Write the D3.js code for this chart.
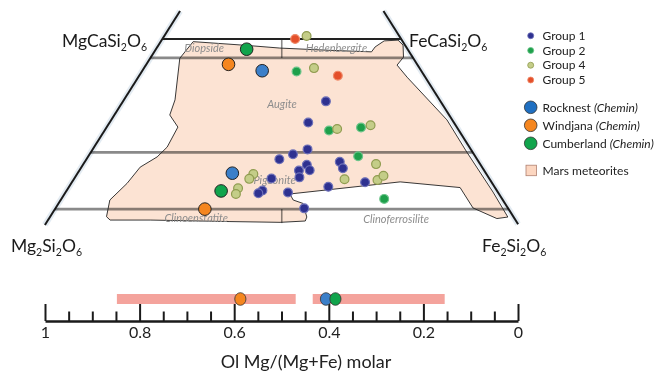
<!DOCTYPE html>
<html><head><meta charset="utf-8">
<script src="https://cdn.jsdelivr.net/npm/d3@7"></script>
<style>body{margin:0;background:#fff} svg{display:block} text{font-family:Lato,"Open Sans",sans-serif}</style>
</head><body><svg id="c" width="662" height="375"></svg>
<script>
// ---- data: pyroxene compositions [Wo %, Fs %] (En = 100 - Wo - Fs)
const group1 = [[33.5,42.5],[27.9,41.6],[20.8,45.0],[19.5,42.6],[18.2,40.4],[17.5,53.4],[15.8,54.9],[16.7,46.9],[15.3,48.2],[15.2,46.0],[13.4,47.0],[13.1,41.3],[12.1,61.4],[10.9,54.3],[9.9,41.0],[9.2,40.5],[9.4,46.6],[5.2,52.1]];
const group2 = [[41.4,32.4],[25.8,47.0],[26.6,53.3],[19.0,56.5],[7.7,67.6]];
const group4 = [[50.8,29.8],[42.3,35.6],[26.2,48.5],[27.2,55.0],[16.9,61.3],[12.9,56.7],[12.7,63.7],[13.8,64.4],[14.3,36.9],[13.0,36.7],[10.5,35.6],[9.0,35.9]];
const group5 = [[50.0,27.8],[40.3,41.6]];
const rocknest = [[41.6,25.1],[14.5,32.4]];
const windjana = [[43.3,17.2],[5.0,31.4]];
const cumberland = [[47.3,19.0],[9.8,32.4]];
const meteoriteField = [[49.3,6.8],[48.3,18.6],[47.6,25.8],[47.0,36.6],[46.6,45.5],[47.9,45.6],[49.5,46.7],[49.7,49.5],[48.4,51.2],[45.2,52.9],[43.1,52.6],[39.9,56.3],[28.6,70.3],[20.1,78.7],[9.5,89.5],[2.9,95.9],[2.5,93.8],[5.3,87.4],[10.7,82.0],[12.2,68.7],[9.0,47.2],[7.4,48.7],[6.5,51.2],[2.9,53.8],[1.85,54.0],[1.5,48.9],[1.7,38.3],[2.1,21.4],[2.1,13.0],[3.0,11.8],[7.4,10.3],[11.8,11.7],[16.1,12.3],[18.8,14.5],[21.4,15.3],[26.7,14.9],[29.9,11.6],[33.9,10.7],[44.9,6.2]];
const woLines = [45, 20, 5];
const phaseNames = ["Diopside","Hedenbergite","Augite","Pigeonite","Clinoenstatite","Clinoferrosilite"];
const phasePos = [[47.5,10.0],[47.7,37.6],[32.9,33.6],[12.8,42.1],[2.6,30.8],[2.5,72.7]]; // [Wo, Fs]
// bottom axis
const olTicksMajor = [1,0.8,0.6,0.4,0.2,0];
const olTickLabels = ["1","0.8","0.6","0.4","0.2","0"];
const olTicksMinor = [0.95,0.9,0.85,0.75,0.7,0.65,0.55,0.5,0.45,0.35,0.3,0.25,0.15,0.1,0.05];
const olRanges = [[0.848,0.470],[0.434,0.155]];
const olPoints = [["windjana",0.587],["rocknest",0.406],["cumberland",0.386]];
const legendGroups = ["Group 1","Group 2","Group 4","Group 5"];
const legendSamples = ["Rocknest","Windjana","Cumberland"];

const colors = {g1:"#2e3190", g2:"#1ea04b", g4:"#c4cd88", g5:"#e4502b",
  rocknest:"#3b7fc9", windjana:"#f5861f", cumberland:"#11a44c"};

const svg = d3.select("#c");
const bx = d3.scaleLinear().domain([0,100]).range([43,520.5]);
const wy = d3.scaleLinear().domain([0,100]).range([228,-150]);
const P = (wo,fs) => [bx(fs+wo/2), wy(wo)];
const line = d3.line();

// side lines
const sides = [[P(57.4,0),P(0.8,0)],[P(57.4,42.6),P(1,99)]];
svg.selectAll(".halo").data(sides).join("path").attr("d",line)
  .attr("stroke","#e3ebf2").attr("stroke-width",6).attr("fill","none");
svg.selectAll(".side").data(sides).join("path").attr("d",line)
  .attr("stroke","#1a1a1a").attr("stroke-width",2).attr("fill","none");

// meteorite field fill
svg.append("path").attr("d", line(meteoriteField.map(d=>P(d[0],d[1])))+"Z")
  .attr("fill","#fce3d3").attr("stroke","none");

// gray Wo lines
svg.selectAll(".wo").data(woLines).join("path")
  .attr("d", w => line([P(w,0),P(w,100-w)]))
  .attr("stroke","#8a8a8a").attr("stroke-width",2.8).attr("fill","none")
  .style("mix-blend-mode","multiply");
// dividers
svg.selectAll(".div").data([[50,45],[5,1.3]]).join("path")
  .attr("d", d => line([P(d[0],50-d[0]/2),P(d[1],50-d[1]/2)]))
  .attr("stroke","#8a8a8a").attr("stroke-width",1.6).attr("fill","none")
  .style("mix-blend-mode","multiply");
// Wo50 line
svg.append("path").attr("d", line([P(50,0),P(50,50)]))
  .attr("stroke","#222").attr("stroke-width",2).attr("fill","none");
// field outline
svg.append("path").attr("d", line(meteoriteField.map(d=>P(d[0],d[1])))+"Z")
  .attr("fill","none").attr("stroke","#222").attr("stroke-width",0.9);

// phase labels
svg.selectAll(".ph").data(phaseNames).join("text")
  .attr("x",(d,i)=>P(...phasePos[i])[0]).attr("y",(d,i)=>P(...phasePos[i])[1]+4)
  .attr("text-anchor","middle").attr("font-style","italic").attr("font-size",11)
  .attr("fill","#8d8d8d").text(d=>d);

// corner labels
function formula(x,y,parts){
  const t = svg.append("text").attr("x",x).attr("y",y).attr("font-size",17.5).attr("fill","#1a1a1a");
  parts.forEach(p=>{
    if(p.sub){ t.append("tspan").attr("font-size",10.5).attr("dy",4).text(p.t); }
    else { t.append("tspan").attr("dy", p.back?-4:0).text(p.t); }
  });
}
formula(62,47,[{t:"MgCaSi"},{t:"2",sub:1},{t:"O",back:1},{t:"6",sub:1}]);
formula(409,47,[{t:"FeCaSi"},{t:"2",sub:1},{t:"O",back:1},{t:"6",sub:1}]);
formula(11,252,[{t:"Mg"},{t:"2",sub:1},{t:"Si",back:1},{t:"2",sub:1},{t:"O",back:1},{t:"6",sub:1}]);
formula(482,252,[{t:"Fe"},{t:"2",sub:1},{t:"Si",back:1},{t:"2",sub:1},{t:"O",back:1},{t:"6",sub:1}]);

// small dots
const smallStyles = [[group1,colors.g1,"#6d70b8"],[group2,colors.g2,"#6cc48a"],[group4,colors.g4,"#909c50"],[group5,colors.g5,"#ef8a68"]];
smallStyles.forEach(([data,fill,stroke])=>{
  svg.append("g").selectAll("circle").data(data).join("circle")
    .attr("cx",d=>P(d[0],d[1])[0]).attr("cy",d=>P(d[0],d[1])[1])
    .attr("r",4.4).attr("fill",fill).attr("stroke",stroke).attr("stroke-width",1.2);
});
// large dots
[[rocknest,colors.rocknest],[windjana,colors.windjana],[cumberland,colors.cumberland]].forEach(([data,fill])=>{
  svg.append("g").selectAll("circle").data(data).join("circle")
    .attr("cx",d=>P(d[0],d[1])[0]).attr("cy",d=>P(d[0],d[1])[1])
    .attr("r",6.3).attr("fill",fill).attr("stroke","#222").attr("stroke-width",1);
});

// legend
const lg = svg.append("g");
const ly = d3.scalePoint().domain(legendGroups).range([35.7,80]);
lg.selectAll(".lgc").data(legendGroups).join("circle")
  .attr("cx",530.7).attr("cy",d=>ly(d)).attr("r",3)
  .attr("fill",(d,i)=>[colors.g1,colors.g2,colors.g4,colors.g5][i])
  .attr("stroke",(d,i)=>["#6d70b8","#6cc48a","#909c50","#ef8a68"][i]).attr("stroke-width",0.8);
lg.selectAll(".lgt").data(legendGroups).join("text")
  .attr("x",542.5).attr("y",d=>ly(d)+4.2).attr("font-size",12).attr("fill","#222").text(d=>d);
const ls = d3.scalePoint().domain(legendSamples).range([107.3,143.3]);
lg.selectAll(".lsc").data(legendSamples).join("circle")
  .attr("cx",530.7).attr("cy",d=>ls(d)).attr("r",6.3)
  .attr("fill",(d,i)=>["#1f6fc1",colors.windjana,colors.cumberland][i]).attr("stroke","#333").attr("stroke-width",0.8);
const lst = lg.selectAll(".lst").data(legendSamples).join("text")
  .attr("x",542.5).attr("y",d=>ls(d)+4.2).attr("font-size",12).attr("fill","#222");
lst.append("tspan").text(d=>d+" ");
lst.append("tspan").attr("font-style","italic").text("(Chemin)");
lg.append("rect").attr("x",526).attr("y",165.2).attr("width",10.5).attr("height",10.5)
  .attr("fill","#fcd6c0").attr("stroke","#b08070").attr("stroke-width",0.8);
lg.append("text").attr("x",542.5).attr("y",175).attr("font-size",12).attr("fill","#222").text("Mars meteorites");

// bottom olivine axis
const xo = d3.scaleLinear().domain([1,0]).range([45,518]);
const axY = 321;
svg.selectAll(".bar").data(olRanges).join("rect")
  .attr("x",d=>xo(d[0])).attr("width",d=>xo(d[1])-xo(d[0]))
  .attr("y",294).attr("height",10).attr("fill","#f4a39c");
const gMin = svg.append("g").attr("transform",`translate(0,${axY})`)
  .call(d3.axisBottom(xo).tickValues(olTicksMinor).tickSizeInner(-9.5).tickSizeOuter(0).tickFormat(""));
gMin.select(".domain").remove();
gMin.selectAll("line").attr("stroke","#1a1a1a").attr("stroke-width",2);
const gMaj = svg.append("g").attr("transform",`translate(0,${axY})`)
  .call(d3.axisBottom(xo).tickValues(olTicksMajor).tickSizeInner(-17).tickSizeOuter(0).tickPadding(6)
    .tickFormat((d,i)=>olTickLabels[i]));
gMaj.select(".domain").attr("stroke","#1a1a1a").attr("stroke-width",2.6);
gMaj.selectAll("line").attr("stroke","#1a1a1a").attr("stroke-width",2);
gMaj.selectAll("text").attr("font-family","Lato").attr("font-size",16).attr("fill","#222");
svg.selectAll(".olp").data(olPoints).join("ellipse")
  .attr("cx",d=>xo(d[1])).attr("cy",299).attr("rx",5.6).attr("ry",6.3)
  .attr("fill",d=>colors[d[0]]).attr("stroke","#333").attr("stroke-width",0.8);
svg.append("text").attr("x",306).attr("y",368).attr("text-anchor","middle")
  .attr("font-size",18).attr("fill","#222").text("Ol Mg/(Mg+Fe) molar");
</script></body></html>
